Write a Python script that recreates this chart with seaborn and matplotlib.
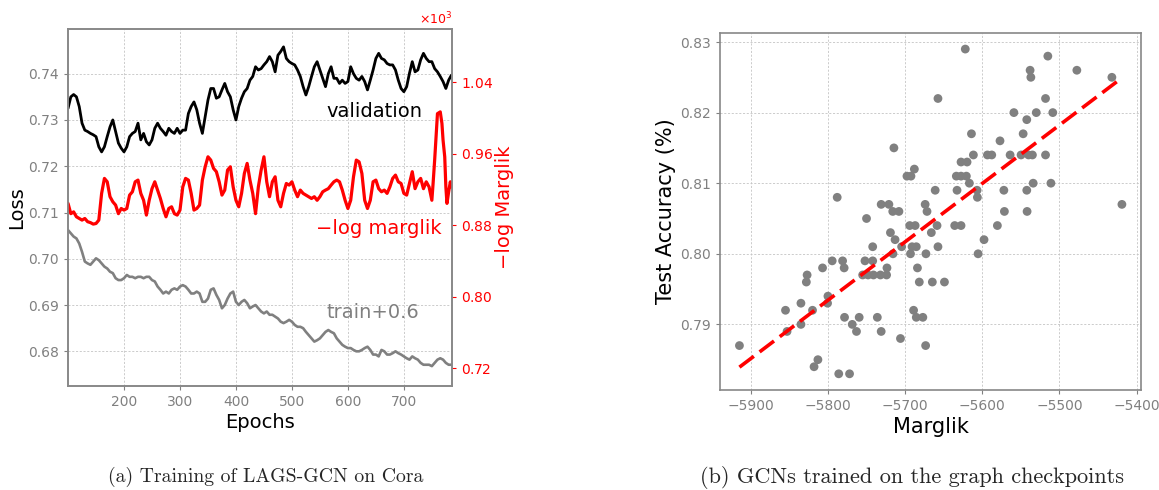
import numpy as np
import pandas as pd
import matplotlib
matplotlib.use("Agg")
import matplotlib.pyplot as plt
import seaborn as sns
from matplotlib.ticker import ScalarFormatter

# ---------------- data: panel (a) ----------------
epochs = list(range(100, 786, 5))

val_loss = [0.7325, 0.7350, 0.7355, 0.7350, 0.7329, 0.7293, 0.7278, 0.7275, 0.7271, 0.7268,
            0.7264, 0.7242, 0.7231, 0.7242, 0.7264, 0.7285, 0.7300, 0.7275, 0.7250, 0.7239,
            0.7231, 0.7242, 0.7264, 0.7271, 0.7275, 0.7293, 0.7257, 0.7271, 0.7253, 0.7246,
            0.7257, 0.7282, 0.7293, 0.7282, 0.7275, 0.7267, 0.7282, 0.7275, 0.7271, 0.7282,
            0.7271, 0.7278, 0.7278, 0.7314, 0.7329, 0.7339, 0.7322, 0.7293, 0.7271, 0.7307,
            0.7343, 0.7368, 0.7368, 0.7347, 0.7350, 0.7365, 0.7379, 0.7361, 0.7350, 0.7322,
            0.7300, 0.7329, 0.7347, 0.7361, 0.7368, 0.7386, 0.7394, 0.7415, 0.7408, 0.7411,
            0.7419, 0.7426, 0.7437, 0.7426, 0.7404, 0.7440, 0.7448, 0.7458, 0.7433, 0.7426,
            0.7422, 0.7419, 0.7408, 0.7394, 0.7372, 0.7354, 0.7372, 0.7394, 0.7415, 0.7426,
            0.7408, 0.7390, 0.7372, 0.7400, 0.7415, 0.7390, 0.7390, 0.7379, 0.7386, 0.7379,
            0.7383, 0.7415, 0.7400, 0.7390, 0.7386, 0.7394, 0.7383, 0.7365, 0.7386, 0.7408,
            0.7433, 0.7444, 0.7433, 0.7430, 0.7422, 0.7419, 0.7419, 0.7408, 0.7386, 0.7368,
            0.7361, 0.7372, 0.7401, 0.7426, 0.7404, 0.7408, 0.7430, 0.7444, 0.7433, 0.7426,
            0.7426, 0.7411, 0.7404, 0.7394, 0.7383, 0.7368, 0.7386, 0.7397]

train_loss = [0.1062, 0.1055, 0.1048, 0.1044, 0.1033, 0.1015, 0.0994, 0.0990, 0.0987, 0.0994,
              0.1001, 0.0997, 0.0990, 0.0983, 0.0979, 0.0972, 0.0969, 0.0958, 0.0954, 0.0954,
              0.0958, 0.0965, 0.0961, 0.0961, 0.0958, 0.0961, 0.0961, 0.0958, 0.0961, 0.0961,
              0.0954, 0.0951, 0.0940, 0.0933, 0.0925, 0.0929, 0.0925, 0.0933, 0.0936, 0.0933,
              0.0940, 0.0943, 0.0940, 0.0933, 0.0925, 0.0925, 0.0929, 0.0925, 0.0907, 0.0907,
              0.0914, 0.0933, 0.0936, 0.0922, 0.0911, 0.0893, 0.0900, 0.0914, 0.0925, 0.0929,
              0.0907, 0.0900, 0.0907, 0.0911, 0.0904, 0.0893, 0.0897, 0.0900, 0.0893, 0.0886,
              0.0882, 0.0886, 0.0879, 0.0879, 0.0875, 0.0871, 0.0864, 0.0861, 0.0864, 0.0868,
              0.0864, 0.0857, 0.0853, 0.0853, 0.0850, 0.0842, 0.0835, 0.0828, 0.0821, 0.0824,
              0.0828, 0.0835, 0.0842, 0.0846, 0.0842, 0.0839, 0.0828, 0.0821, 0.0814, 0.0810,
              0.0807, 0.0807, 0.0803, 0.0800, 0.0800, 0.0803, 0.0807, 0.0810, 0.0803, 0.0793,
              0.0793, 0.0789, 0.0803, 0.0800, 0.0793, 0.0793, 0.0796, 0.0800, 0.0796, 0.0793,
              0.0789, 0.0785, 0.0782, 0.0789, 0.0785, 0.0782, 0.0775, 0.0771, 0.0771, 0.0771,
              0.0768, 0.0775, 0.0782, 0.0785, 0.0782, 0.0775, 0.0771, 0.0771]
train_offset = 0.6

marglik_epochs = list(range(100, 750, 5)) + [750, 752, 755, 760, 765, 768, 770, 773, 775, 777,
                                             780, 783, 785]
neg_log_marglik = [904.5, 893.0, 895.0, 889.5, 887.6, 885.8, 887.6, 884.0, 883.0, 881.3,
                   882.0, 885.8, 915.7, 932.5, 928.7, 912.0, 906.3, 902.6, 893.0, 898.8,
                   897.0, 898.8, 913.8, 917.5, 928.7, 930.6, 915.7, 908.0, 891.4, 908.0,
                   921.0, 928.7, 919.4, 910.0, 898.8, 889.5, 898.8, 900.7, 893.0, 891.4,
                   897.0, 923.0, 932.5, 930.6, 915.7, 897.0, 898.8, 902.6, 930.6, 945.5,
                   956.7, 953.0, 943.7, 940.0, 928.7, 913.8, 919.4, 941.8, 945.5, 923.0,
                   908.0, 900.7, 915.7, 938.0, 949.3, 930.6, 915.7, 893.0, 923.0, 941.8,
                   956.7, 928.7, 912.0, 928.7, 934.3, 908.0, 900.7, 915.7, 926.8, 925.0,
                   928.7, 919.4, 912.0, 919.4, 915.7, 913.8, 912.0, 910.0, 912.0, 908.0,
                   912.0, 917.5, 919.4, 921.0, 925.0, 928.7, 930.6, 928.7, 919.4, 908.0,
                   898.8, 908.0, 934.3, 953.0, 951.0, 938.0, 908.0, 898.8, 908.0, 928.7,
                   930.6, 921.0, 917.5, 919.4, 915.7, 923.0, 932.5, 936.2, 928.7, 926.8,
                   915.7, 913.8, 926.8, 940.0, 921.0, 928.7, 932.5, 921.0, 928.7, 923.0,
                   908.0, 925.0, 953.0, 1005.0, 1007.0, 994.0, 975.4, 956.7, 923.0, 904.5,
                   917.5, 928.7, 923.0]

# ---------------- data: panel (b) ----------------
marglik = [-5914.7, -5855, -5853, -5835, -5835, -5827, -5828, -5820, -5818, -5813,
           -5807, -5800, -5800.5, -5794.5, -5788, -5786, -5781, -5779, -5778.5, -5772,
           -5768.5, -5763, -5759.5, -5755, -5752, -5750, -5748, -5742, -5742, -5741,
           -5736, -5732, -5731, -5731, -5724, -5723.5, -5721, -5719, -5716, -5715.7,
           -5714.5, -5713, -5708, -5706, -5704.5, -5697.6, -5692.4, -5694, -5693, -5691,
           -5689, -5688, -5687, -5685.5, -5685.5, -5684, -5681.6, -5677, -5674, -5673,
           -5673.4, -5671.6, -5666, -5664.7, -5661, -5658.6, -5657.4, -5657.4, -5649, -5635.7,
           -5633.6, -5632.7, -5627.5, -5627.5, -5627.5, -5622, -5620.6, -5619.7, -5616.7, -5614,
           -5611.5, -5606.7, -5606.3, -5605.4, -5597.7, -5593.3, -5587.7, -5580.4, -5577, -5572,
           -5571.3, -5563.9, -5559, -5549.7, -5547, -5542.3, -5542.3, -5541.9, -5540, -5538,
           -5537, -5535, -5534, -5530, -5518, -5518, -5515, -5511, -5508.6, -5477.4,
           -5432, -5419]
test_acc = [0.787, 0.792, 0.789, 0.793, 0.790, 0.797, 0.796, 0.792, 0.784, 0.785,
            0.798, 0.794, 0.793, 0.799, 0.808, 0.783, 0.799, 0.798, 0.791, 0.783,
            0.790, 0.789, 0.791, 0.797, 0.799, 0.805, 0.797, 0.801, 0.799, 0.797,
            0.791, 0.797, 0.807, 0.789, 0.797, 0.798, 0.807, 0.803, 0.806, 0.800,
            0.815, 0.802, 0.806, 0.788, 0.801, 0.811, 0.811, 0.804, 0.800, 0.801,
            0.792, 0.812, 0.804, 0.801, 0.791, 0.798, 0.796, 0.791, 0.807, 0.800,
            0.787, 0.806, 0.803, 0.796, 0.809, 0.804, 0.822, 0.801, 0.796, 0.804,
            0.811, 0.809, 0.813, 0.811, 0.804, 0.829, 0.811, 0.813, 0.810, 0.817,
            0.814, 0.809, 0.808, 0.800, 0.802, 0.814, 0.814, 0.804, 0.816, 0.809,
            0.806, 0.814, 0.820, 0.814, 0.817, 0.819, 0.809, 0.806, 0.814, 0.826,
            0.825, 0.814, 0.810, 0.820, 0.822, 0.814, 0.828, 0.810, 0.820, 0.826,
            0.825, 0.807]

# ---------------- style ----------------
sns.set_style("whitegrid", {"grid.linestyle": (0, (2.5, 2)), "grid.color": "#c4c4c4",
                            "axes.edgecolor": "#888888", "xtick.bottom": True,
                            "ytick.left": True, "xtick.color": "#888888",
                            "ytick.color": "#888888"})
plt.rcParams["font.family"] = ["DejaVu Sans"]
plt.rcParams["axes.linewidth"] = 1.2
plt.rcParams["grid.linewidth"] = 0.6
plt.rcParams["xtick.major.size"] = 3
plt.rcParams["ytick.major.size"] = 3

GRAY = "#808080"
fig = plt.figure(figsize=(11.59, 4.90), dpi=100)

# ---------------- panel (a) ----------------
ax = fig.add_axes([0.0587, 0.2122, 0.3313, 0.729])
df_a = pd.DataFrame({"epoch": epochs, "val": val_loss,
                     "train": np.array(train_loss) + train_offset})
sns.lineplot(data=df_a, x="epoch", y="val", ax=ax, color="black", lw=2.0)
sns.lineplot(data=df_a, x="epoch", y="train", ax=ax, color=GRAY, lw=1.9)
ax.set_xlim(100, 786)
ax.set_ylim(0.6725, 0.7497)
ax.set_xticks([200, 300, 400, 500, 600, 700])
ax.set_yticks([0.68, 0.69, 0.70, 0.71, 0.72, 0.73, 0.74])
ax.tick_params(labelsize=10, colors=GRAY)
ax.set_xlabel("Epochs", fontsize=14, color="black", labelpad=3)
ax.set_ylabel("Loss", fontsize=14, color="black")
ax.yaxis.set_label_coords(-0.108, 0.5)

ax2 = ax.twinx()
df_m = pd.DataFrame({"epoch": marglik_epochs, "m": neg_log_marglik})
sns.lineplot(data=df_m, x="epoch", y="m", ax=ax2, color="red", lw=2.3)
ax2.set_ylim(700, 1100)
ax2.set_yticks([720, 800, 880, 960, 1040])
ax2.grid(False)
fmt = ScalarFormatter(useMathText=True)
fmt.set_powerlimits((0, 0))
ax2.yaxis.set_major_formatter(fmt)
ax2.tick_params(axis="y", labelsize=10, colors="red", right=True, length=3)
ax2.yaxis.get_offset_text().set_color("red")
ax2.yaxis.get_offset_text().set_fontsize(9)
ax2.set_ylabel("\u2212log Marglik", fontsize=14, color="red", labelpad=1)
ax2.set_xlabel("")
for s in ax2.spines.values():
    s.set_color("#888888")
    s.set_linewidth(1.2)

ax.text(562, 0.7318, "validation", fontsize=14, color="black", va="center", ha="left")
ax.text(543, 0.7066, "\u2212log marglik", fontsize=14, color="red", va="center", ha="left")
ax.text(562, 0.6884, "train+0.6", fontsize=14, color=GRAY, va="center", ha="left")

# ---------------- panel (b) ----------------
bx = fig.add_axes([0.6215, 0.204, 0.363, 0.729])
df_b = pd.DataFrame({"Marglik": marglik, "acc": test_acc})
sns.scatterplot(data=df_b, x="Marglik", y="acc", ax=bx, color=GRAY, s=40,
                edgecolor="none", linewidth=0, zorder=3)
sns.regplot(data=df_b, x="Marglik", y="acc", ax=bx, scatter=False, ci=None,
            line_kws=dict(color="red", ls=(0, (5, 2)), lw=2.6, zorder=4))
bx.set_xticks([-5900, -5800, -5700, -5600, -5500, -5400])
bx.set_yticks([0.79, 0.80, 0.81, 0.82, 0.83])
bx.tick_params(labelsize=10, colors=GRAY)
bx.set_xlabel("Marglik", fontsize=15, color="black", labelpad=3)
bx.set_ylabel("Test Accuracy (%)", fontsize=15, color="black")
bx.yaxis.set_label_coords(-0.105, 0.5)

# ---------------- captions ----------------
fig.text(0.2295, 0.0265, "(a) Training of LAGS-GCN on Cora", fontsize=14.2,
         family="cmr10", ha="center", va="center")
fig.text(0.7869, 0.0265, "(b) GCNs trained on the graph checkpoints", fontsize=16,
         family="cmr10", ha="center", va="center")

fig.savefig("out.png", dpi=100)
